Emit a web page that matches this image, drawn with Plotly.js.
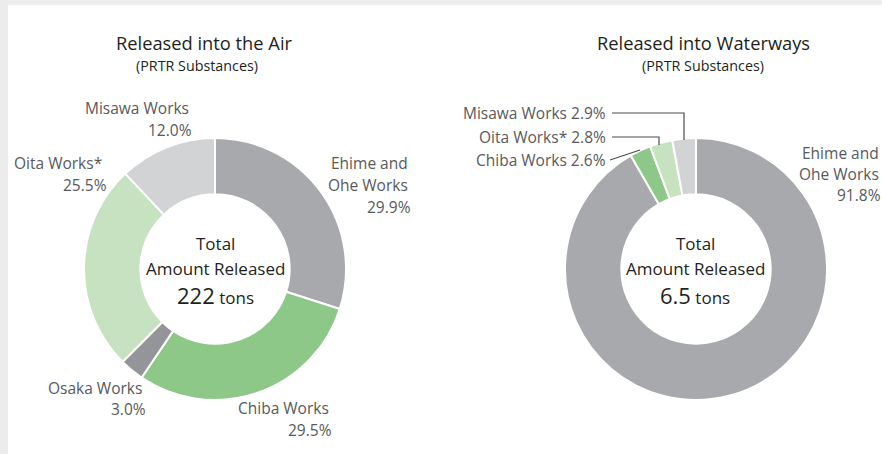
<!DOCTYPE html>
<html>
<head>
<meta charset="utf-8">
<script src="https://cdn.plot.ly/plotly-3.0.1.min.js"></script>
<style>html,body{margin:0;padding:0;background:#ececec;}#chart{width:882px;height:454px;}</style>
</head>
<body>
<div id="chart"></div>
<script>
// ---- data ----
const airLabels = ["Ehime and Ohe Works", "Chiba Works", "Osaka Works", "Oita Works*", "Misawa Works"];
const airValues = [29.9, 29.5, 3.0, 25.5, 12.0];
const airColors = ["#a7a9ac", "#8dc888", "#939598", "#c6e2c0", "#d1d3d4"];
const airTotal = "222";

const waterLabels = ["Ehime and Ohe Works", "Chiba Works", "Oita Works*", "Misawa Works"];
const waterValues = [91.8, 2.6, 2.8, 2.9];
const waterColors = ["#a7a9ac", "#8dc888", "#c6e2c0", "#d1d3d4"];
const waterTotal = "6.5";

const titles = ["Released into the Air", "Released into Waterways"];
const subtitle = "(PRTR Substances)";

// ---- layout helpers ----
const W = 882, H = 454;
const px = x => x / W;
const py = y => 1 - y / H;
const FONT = "Open Sans, sans-serif";
const DARK = "#231f20";
const GREY = "#58595b";
const pct = v => v.toFixed(1) + "%";

function dom(cx, cy, r) {
  return { x: [px(cx - r), px(cx + r)], y: [py(cy + r), py(cy - r)] };
}

const traces = [
  {
    type: "pie", values: airValues, labels: airLabels, sort: false,
    direction: "clockwise", rotation: 0, hole: 0.57,
    marker: { colors: airColors, line: { color: "#ffffff", width: 2 } },
    textinfo: "none", hoverinfo: "label+percent", showlegend: false,
    domain: dom(215, 269, 131)
  },
  {
    type: "pie", values: waterValues, labels: waterLabels, sort: false,
    direction: "clockwise", rotation: 0, hole: 0.57,
    marker: { colors: waterColors, line: { color: "#ffffff", width: 2 } },
    textinfo: "none", hoverinfo: "label+percent", showlegend: false,
    domain: dom(696, 269, 131)
  }
];

const ann = [];
function txt(t, x, y, size, color, xanchor) {
  ann.push({ text: t, x: px(x), y: py(y), xref: "paper", yref: "paper",
    xanchor: xanchor || "center", yanchor: "middle", showarrow: false, borderpad: 0,
    font: { family: FONT, size: size, color: color } });
}

// titles
txt(titles[0], 204, 42.5, 18.3, DARK);
txt(subtitle, 197, 65, 14.3, DARK);
txt(titles[1], 703, 42.5, 18.3, DARK);
txt(subtitle, 703, 65, 14.3, DARK);

// center text
[[215, airTotal], [695, waterTotal]].forEach(([cx, tot]) => {
  txt("Total", cx, 244, 17, DARK);
  txt("Amount Released", cx, 268, 17, DARK);
  txt('<span style="font-size:22px">' + tot + '</span> tons', cx, 295, 17, DARK);
});

// air labels (right aligned)
const LS = 15.5;
txt("Ehime and", 409, 163, LS, GREY, "right");
txt("Ohe Works", 409, 185, LS, GREY, "right");
txt(pct(airValues[0]), 412, 207, LS, GREY, "right");
txt(airLabels[1], 330, 408, LS, GREY, "right");
txt(pct(airValues[1]), 333, 430, LS, GREY, "right");
txt(airLabels[2], 143, 388, LS, GREY, "right");
txt(pct(airValues[2]), 147, 409, LS, GREY, "right");
txt(airLabels[3], 103, 163, LS, GREY, "right");
txt(pct(airValues[3]), 108, 185, LS, GREY, "right");
txt(airLabels[4], 190, 108, LS, GREY, "right");
txt(pct(airValues[4]), 193, 130, LS, GREY, "right");

// water labels
txt("Ehime and", 880, 153, LS, GREY, "right");
txt("Ohe Works", 880, 174, LS, GREY, "right");
txt(pct(waterValues[0]), 882, 195, LS, GREY, "right");
txt(waterLabels[3] + " " + pct(waterValues[3]), 607, 113, LS, GREY, "right");
txt(waterLabels[2] + " " + pct(waterValues[2]), 607, 137, LS, GREY, "right");
txt(waterLabels[1] + " " + pct(waterValues[1]), 607, 160, LS, GREY, "right");

const lineStyle = { color: "#4d4d4f", width: 1.2 };
const shapes = [
  { type: "rect", xref: "paper", yref: "paper", x0: px(8), x1: 1.01, y0: -0.01, y1: py(5),
    fillcolor: "#ffffff", line: { width: 0 }, layer: "below" },
  { type: "path", xref: "paper", yref: "paper",
    path: `M ${px(612)} ${py(113)} L ${px(684)} ${py(113)} L ${px(684)} ${py(140)}`, line: lineStyle },
  { type: "path", xref: "paper", yref: "paper",
    path: `M ${px(612)} ${py(137)} L ${px(659)} ${py(137)} L ${px(659)} ${py(145)}`, line: lineStyle },
  { type: "path", xref: "paper", yref: "paper",
    path: `M ${px(610)} ${py(160)} L ${px(640)} ${py(150)}`, line: lineStyle }
];

const layout = {
  width: W, height: H,
  margin: { l: 0, r: 0, t: 0, b: 0 },
  paper_bgcolor: "#ececec",
  plot_bgcolor: "#ffffff",
  showlegend: false,
  annotations: ann,
  shapes: shapes
};

Plotly.newPlot("chart", traces, layout, { staticPlot: true, displayModeBar: false });
</script>
</body>
</html>
